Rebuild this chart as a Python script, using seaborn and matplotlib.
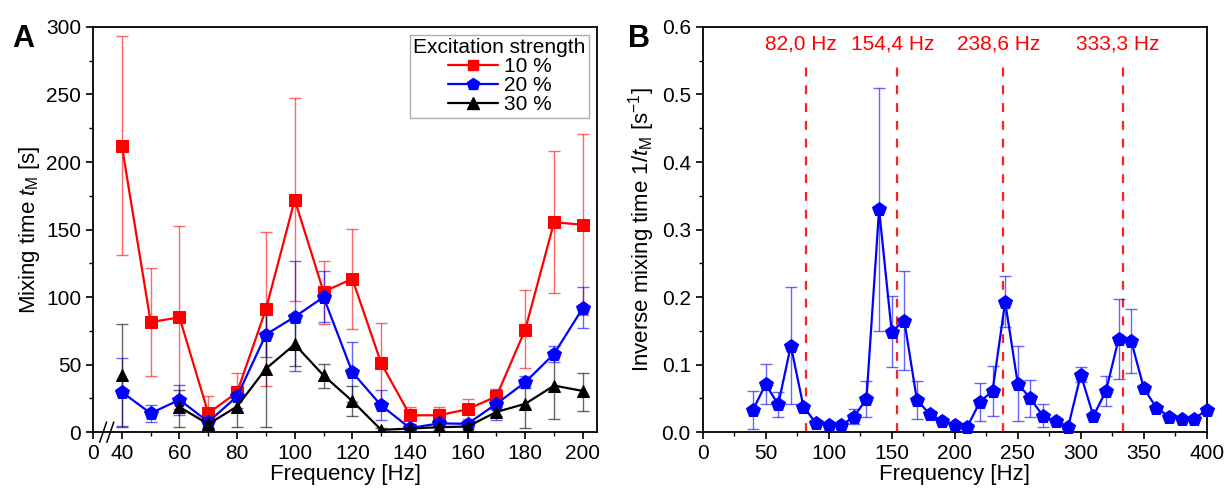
import numpy as np
import pandas as pd
import matplotlib
matplotlib.use("Agg")
import matplotlib.pyplot as plt
from matplotlib.lines import Line2D
import seaborn as sns

# ---- panel A data: mixing time vs frequency ----
freq_a = [40, 50, 60, 70, 80, 90, 100, 110, 120, 130, 140, 150, 160, 170, 180, 190, 200]

t10 = [212, 81.5, 85, 14, 29.5, 91, 172, 104, 113.5, 51, 12.5, 12.5, 17, 26.5, 76, 155.5, 153.5]
t10_lo = [131.5, 41.8, 17, 4, 15, 34, 97, 80, 76.5, 21.5, 6, 6, 10, 17, 47.5, 103, 86.5]
t10_hi = [293, 121.5, 153, 26.5, 44, 148, 247.5, 127, 150.5, 81, 19, 19, 24.5, 30, 105, 208, 220.5]

t20 = [29.7, 14, 24, 7.6, 26.5, 72.3, 85.4, 100, 44.3, 19.8, 3, 6.5, 6.2, 21, 37, 58, 92]
t20_lo = [4.7, 7.9, 13, 3, 18, 55.7, 45, 81.7, 22, 9, 0.5, 3.5, 3.5, 9, 32.5, 52, 77]
t20_hi = [54.7, 20, 35, 12.3, 30, 89, 126.5, 119, 66.6, 31.4, 6, 9, 8.5, 32, 41.5, 64, 107.5]

t30 = [42.5, np.nan, 18.6, 6, 19, 47, 65, 42, 23, 1.7, 2.7, 3.7, 4.2, 15, 21, 34.5, 30.5]
t30_lo = [4.2, np.nan, 4, 2, 4, 4, 48.7, 32.4, 12, 0.5, 1, 1.5, 2, 12, 3, 10, 16]
t30_hi = [80, np.nan, 31, 9, 33, 90, 81.4, 50.7, 34.4, 3, 4, 5, 6, 18.5, 37, 57, 44]

strength_labels = ["10 %", "20 %", "30 %"]

# ---- panel B data: inverse mixing time (20 %) ----
freq_b = list(range(40, 410, 10))
inv = [0.033, 0.071, 0.041, 0.128, 0.038, 0.013, 0.011, 0.010, 0.023, 0.049,
       0.330, 0.149, 0.165, 0.048, 0.027, 0.017, 0.011, 0.008, 0.045, 0.061,
       0.193, 0.072, 0.050, 0.024, 0.016, 0.008, 0.085, 0.024, 0.061, 0.138,
       0.135, 0.065, 0.036, 0.023, 0.019, 0.020, 0.033]
inv_err = [0.028, 0.030, 0.019, 0.087, 0.0, 0.0, 0.0, 0.0, 0.011, 0.027,
           0.180, 0.052, 0.073, 0.028, 0.0, 0.0, 0.0, 0.0, 0.028, 0.037,
           0.038, 0.056, 0.027, 0.017, 0.0, 0.0, 0.011, 0.0, 0.022, 0.059,
           0.047, 0.0, 0.0, 0.0, 0.0, 0.0, 0.004]

peak_freqs = [82.0, 154.4, 238.6, 333.3]
peak_labels = ["82,0 Hz", "154,4 Hz", "238,6 Hz", "333,3 Hz"]

sns.set_style("ticks")
plt.rcParams['font.family'] = ['Liberation Sans', 'DejaVu Sans']
plt.rcParams['mathtext.fontset'] = 'custom'
plt.rcParams['mathtext.rm'] = 'Liberation Sans'
plt.rcParams['mathtext.it'] = 'Liberation Sans:italic'
plt.rcParams['text.color'] = 'black'
plt.rcParams['axes.labelcolor'] = 'black'
plt.rcParams['xtick.color'] = 'black'
plt.rcParams['ytick.color'] = 'black'
plt.rcParams['axes.linewidth'] = 1.3
plt.rcParams['xtick.major.width'] = 1.2
plt.rcParams['ytick.major.width'] = 1.2
plt.rcParams['xtick.minor.width'] = 1.0
plt.rcParams['ytick.minor.width'] = 1.0

fig = plt.figure(figsize=(12.24, 4.9), dpi=100)
ax1 = fig.add_axes([0.076, 0.118, 0.412, 0.827])
ax2 = fig.add_axes([0.574, 0.118, 0.412, 0.827])

# long table for seaborn; 30 % has a gap at 50 Hz -> separate units
rows = []
for lab, vals in zip(strength_labels, [t10, t20, t30]):
    seg = 0
    for f, v in zip(freq_a, vals):
        if np.isnan(v):
            seg += 1
            continue
        rows.append({"freq": f, "tm": v, "strength": lab, "seg": seg})
df_a = pd.DataFrame(rows)

colors = {"10 %": "#ff0000", "20 %": "#0000ff", "30 %": "#000000"}
markers = {"10 %": "s", "20 %": "p", "30 %": "^"}
msize = {"10 %": 8, "20 %": 10, "30 %": 9}

for lab, vals, lo, hi in zip(strength_labels, [t10, t20, t30],
                             [t10_lo, t20_lo, t30_lo], [t10_hi, t20_hi, t30_hi]):
    v = np.array(vals)
    yerr = [v - np.array(lo), np.array(hi) - v]
    ax1.errorbar(freq_a, v, yerr=yerr, fmt="none", ecolor=colors[lab],
                 elinewidth=1.0, capsize=4, capthick=1.0, alpha=0.6, zorder=2)
    sub = df_a[df_a["strength"] == lab]
    sns.lineplot(data=sub, x="freq", y="tm", units="seg", estimator=None,
                 color=colors[lab], marker=markers[lab], markersize=msize[lab],
                 markeredgecolor=colors[lab], linewidth=1.6, ax=ax1,
                 legend=False, zorder=3)

ax1.set_xlim(30, 205)
ax1.set_ylim(0, 300)
ax1.set_xticks([30] + list(range(40, 201, 20)))
ax1.set_xticklabels(["0"] + [str(x) for x in range(40, 201, 20)])
ax1.set_xticks(list(range(50, 200, 20)), minor=True)
ax1.set_yticks(range(0, 301, 50))
ax1.set_yticks(range(25, 300, 50), minor=True)
ax1.set_xlabel("Frequency [Hz]", fontsize=16, labelpad=1)
ax1.set_ylabel("Mixing time $t_\\mathrm{M}$ [s]", fontsize=16, labelpad=3)

# axis break marks on the x axis
for xb in [33.5, 36.0]:
    ax1.add_line(Line2D([xb - 1.2, xb + 1.2], [-0.025, 0.025], color="black",
                        lw=1.1, transform=ax1.get_xaxis_transform(), clip_on=False))

handles = [Line2D([], [], color=colors[l], marker=markers[l], markersize=msize[l] - 1,
                  lw=1.6) for l in strength_labels]
leg = ax1.legend(handles, strength_labels, title="Excitation strength",
                 loc="upper right", fontsize=15, title_fontsize=15,
                 frameon=True, fancybox=False, edgecolor="#999999",
                 handlelength=2.4, labelspacing=0.0, borderpad=0.15,
                 borderaxespad=0.4, handletextpad=0.3)
leg.get_frame().set_linewidth(1.0)

# ---- panel B ----
df_b = pd.DataFrame({"freq": freq_b, "inv": inv})
ax2.errorbar(freq_b, inv, yerr=inv_err, fmt="none", ecolor="#0000ff",
             elinewidth=1.0, capsize=4, capthick=1.0, alpha=0.6, zorder=2)
sns.lineplot(data=df_b, x="freq", y="inv", color="#0000ff", marker="p",
             markersize=10, markeredgecolor="#0000ff", linewidth=1.6,
             ax=ax2, zorder=3, clip_on=False)
ax2.vlines(peak_freqs, 0, 0.548, colors="#ff2020", linestyles=(0, (4, 4)),
           lw=1.6, zorder=1)
for pf, pl in zip(peak_freqs, peak_labels):
    ax2.text(pf - 4, 0.575, pl, color="#ff0000", fontsize=15,
             ha="center", va="center")

ax2.set_xlim(0, 400)
ax2.set_ylim(0, 0.6)
ax2.set_xticks(range(0, 401, 50))
ax2.set_xticks(range(25, 400, 50), minor=True)
ax2.set_yticks(np.arange(0, 0.61, 0.1))
ax2.set_yticklabels([f"{y:.1f}" for y in np.arange(0, 0.61, 0.1)])
ax2.set_yticks(np.arange(0.05, 0.6, 0.1), minor=True)
ax2.set_xlabel("Frequency [Hz]", fontsize=16, labelpad=1)
ax2.set_ylabel("Inverse mixing time 1/$t_\\mathrm{M}$ [s$^{\\mathrm{-1}}$]", fontsize=16, labelpad=3)

for ax in (ax1, ax2):
    ax.tick_params(which="major", direction="out", length=5, labelsize=15,
                   top=False, right=False, colors="black")
    ax.tick_params(which="minor", direction="out", length=3, top=False, right=False)
    for s in ax.spines.values():
        s.set_visible(True)
        s.set_color("black")

fig.text(0.010, 0.905, "A", fontsize=22, fontweight="bold")
fig.text(0.513, 0.905, "B", fontsize=22, fontweight="bold")

fig.savefig("out.png", dpi=100)
